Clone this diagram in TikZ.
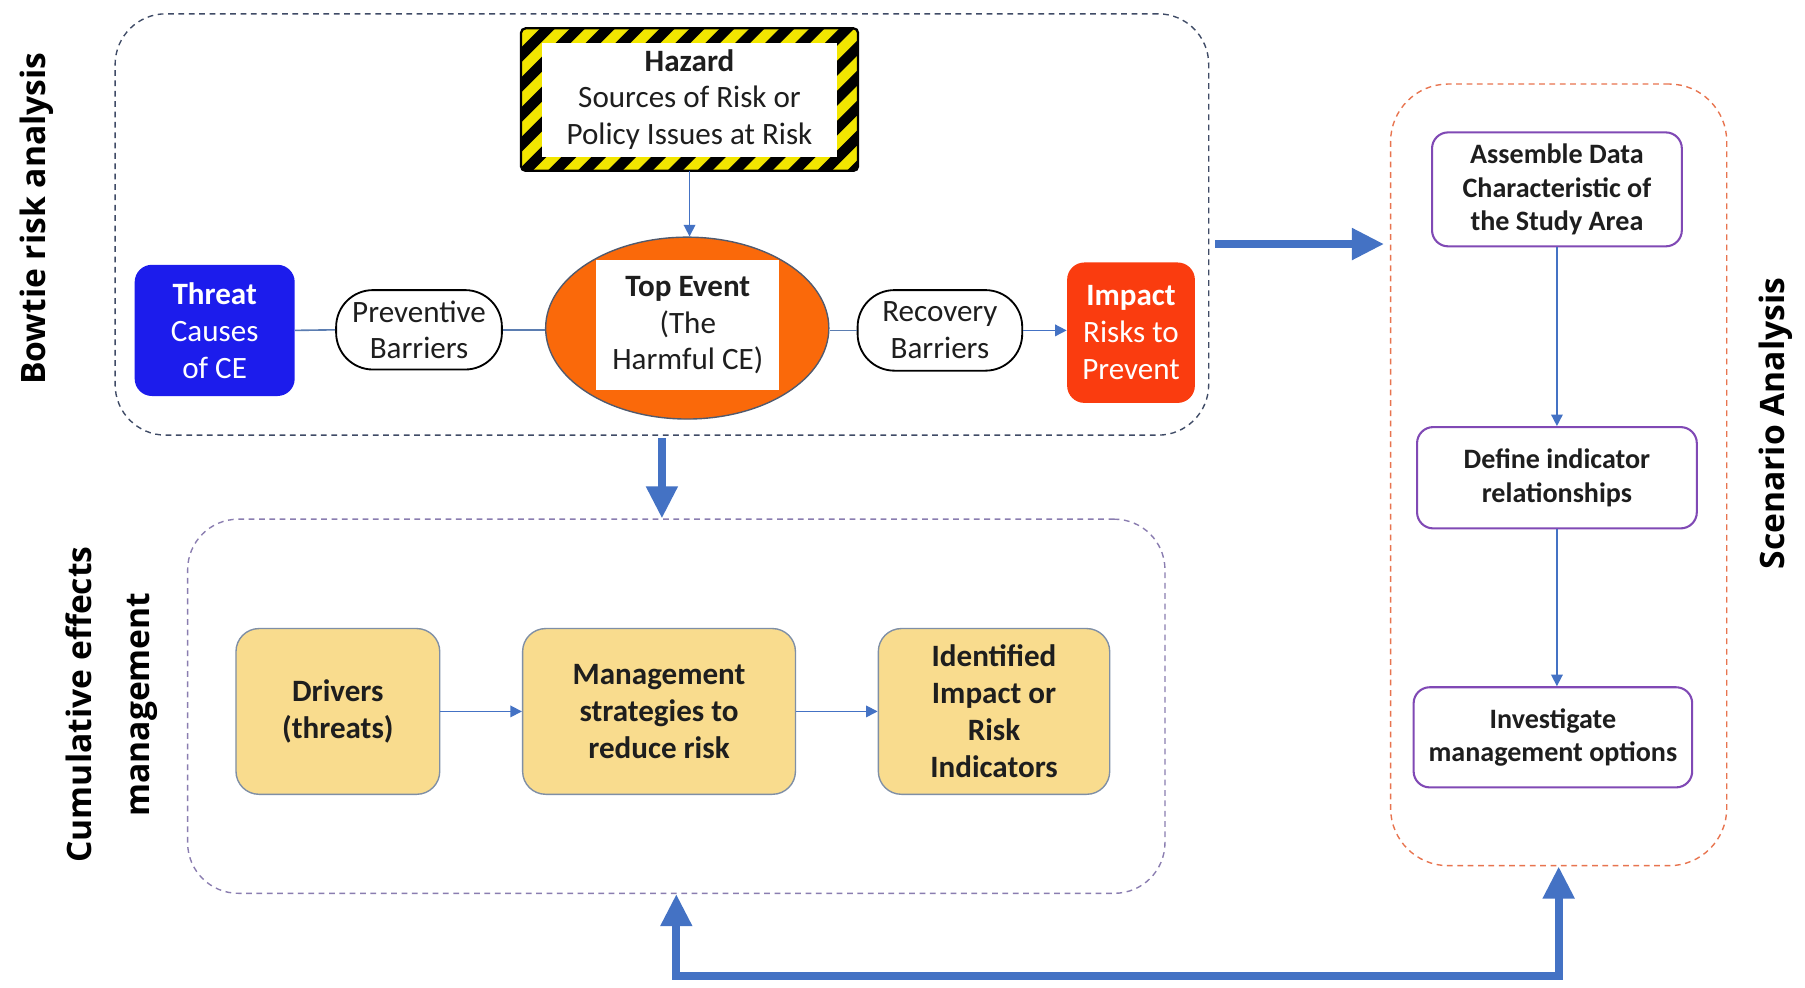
\documentclass[tikz,border=0pt]{standalone}
\usepackage{fontspec}
\setmainfont{Carlito}
\newfontfamily\labfont{Open Sans}
\usetikzlibrary{arrows.meta,shapes.geometric}
\definecolor{arrblue}{HTML}{4472C4}
\definecolor{linecol}{HTML}{5B7DB1}
\definecolor{txtcol}{HTML}{1E1E1E}
\definecolor{thrblue}{RGB}{28,28,236}
\definecolor{impred}{HTML}{FA3C0F}
\definecolor{evorange}{HTML}{FA690A}
\definecolor{ellcol}{HTML}{505A6E}
\definecolor{yelbox}{HTML}{F9DC8E}
\definecolor{yelborder}{HTML}{7F8FA6}
\definecolor{hazyel}{HTML}{F2E600}
\definecolor{purp}{HTML}{8049B5}
\definecolor{scendash}{HTML}{E8744F}
\definecolor{cemdash}{HTML}{8A7DB0}
\definecolor{bowdash}{HTML}{3F4B66}
\begin{document}
\begin{tikzpicture}[x=0.5pt,y=-0.5pt,
  txt/.style={font=\fontsize{13.5}{16}\selectfont, align=center, text=txtcol},
  btxt/.style={font=\bfseries\fontsize{13.5}{16}\selectfont, align=center, text=txtcol},
  stxt/.style={font=\bfseries\fontsize{12.2}{14.5}\selectfont, align=center, text=txtcol},
  lab/.style={font=\labfont\bfseries\fontsize{14.6}{25}\selectfont, align=center, text=black, rotate=90},
  group/.style={draw, dashed, dash pattern=on 2.5pt off 2pt, line width=0.6pt, rounded corners=22pt, inner sep=0},
  pill/.style={draw=black, line width=0.8pt, fill=white, rounded corners=16pt, inner sep=0, txt},
  colbox/.style={rounded corners=7.5pt, inner sep=0, text=white, align=center, font=\fontsize{13.5}{16}\selectfont},
  yel/.style={draw=yelborder, line width=0.6pt, fill=yelbox, rounded corners=10pt, inner sep=0, minimum height=72pt, btxt},
  scbox/.style={draw=purp, line width=0.9pt, fill=white, rounded corners=7pt, inner sep=0, stxt},
  thinl/.style={draw=linecol, line width=0.7pt},
  thina/.style={draw=arrblue, line width=0.7pt, -{Triangle[width=5pt,length=5pt]}},
  bigarr/.style={draw=arrblue, fill=none, line width=3.5pt, -{Triangle[width=13pt,length=14pt]}},
  bigboth/.style={draw=arrblue, line width=3.5pt, line join=miter, {Triangle[width=13pt,length=14pt]}-{Triangle[width=13pt,length=14pt]}}
]
\fill[white] (0,0) rectangle (1568,858);
\useasboundingbox (0,0) rectangle (1568,858);

% group boxes
\node[group, draw=bowdash, minimum width=475pt, minimum height=183pt] (bow) at (575,195) {};
\node[group, draw=cemdash, minimum width=424.5pt, minimum height=162.5pt] (cem) at (587.5,613.5) {};
\node[group, draw=scendash, rounded corners=25pt, minimum width=146pt, minimum height=339.5pt] (scen) at (1354,412.5) {};

% side labels
\node[lab] (lbow) at (32,190) {Bowtie risk analysis};
\node[lab] (lcem) at (97,612) {Cumulative effects\\management};
\node[lab] (lscen) at (1543,368) {Scenario Analysis};

% hazard
\node[minimum width=146pt, minimum height=61.5pt, inner sep=0] (haz) at (599,86.5) {};
\begin{scope}
  \clip[rounded corners=2pt] (haz.south west) rectangle (haz.north east);
  \fill[hazyel] (haz.south west) rectangle (haz.north east);
  \foreach \s in {320,346,...,750} {
    \fill[black] (\s,148) -- ++(13,0) -- ++(123,-123) -- ++(-13,0) -- cycle;
  }
\end{scope}
\draw[black, line width=1pt, rounded corners=2pt] (haz.south west) rectangle (haz.north east);
\node[fill=white, minimum width=128pt, minimum height=49.5pt, inner sep=0, txt] (hazin) at (haz.center)
  {\textbf{Hazard}\\Sources of Risk or\\Policy Issues at Risk};

% top event
\node[ellipse, draw=ellcol, line width=0.6pt, fill=evorange, minimum width=123pt, minimum height=79pt, inner sep=0] (ell) at (597,285) {};
\node[fill=white, minimum width=79.5pt, minimum height=56.5pt, inner sep=0, txt] (top) at (597.5,282.5)
  {\textbf{Top Event}\\(The\\Harmful CE)};

% threat / barriers / impact
\node[colbox, fill=thrblue, minimum width=69.5pt, minimum height=57pt] (thr) at (186.5,287) {\textbf{Threat}\\Causes\\of CE};
\node[pill, minimum width=72pt, minimum height=34.5pt] (prev) at (364,286.5) {Preventive\\Barriers};
\node[pill, minimum width=71.5pt, minimum height=35pt] (rec) at (816.5,287) {Recovery\\Barriers};
\node[colbox, fill=impred, minimum width=55.5pt, minimum height=61pt] (imp) at (982.5,289) {\textbf{Impact}\\Risks to\\Prevent};

\draw[thina] (haz.south) -- (haz.south |- ell.north);
\draw[thinl] (thr.east) -- (prev.west);
\draw[thinl] (prev.east) -- (prev.east -| ell.west);
\draw[thinl] (rec.west -| ell.east) -- (rec.west);
\draw[thina] (rec.east) -- (rec.east -| imp.west);

% cumulative effects boxes
\node[yel, minimum width=88.5pt] (drv) at (293.5,618) {Drivers\\(threats)};
\node[yel, minimum width=118.5pt] (mgt) at (572.5,618) {Management\\strategies to\\reduce risk};
\node[yel, minimum width=100.5pt] (idn) at (863.5,618) {Identified\\Impact or\\Risk\\Indicators};
\draw[thina] (drv.east) -- (mgt.west);
\draw[thina] (mgt.east) -- (idn.west);

% scenario boxes
\node[scbox, minimum width=108.5pt, minimum height=49.5pt] (asm) at (1352.5,164.5) {Assemble Data\\Characteristic of\\the Study Area};
\node[scbox, minimum width=121.5pt, minimum height=44pt] (def) at (1352.5,415) {Define indicator\\relationships};
\node[scbox, minimum width=121pt, minimum height=43.5pt] (inv) at (1349,640.5) {Investigate\\management options};
\draw[thina] (asm.south) -- (asm.south |- def.north);
\draw[thina] (def.south) -- (def.south |- inv.north);

% big arrows
\draw[bigarr, shorten <=2.5pt, shorten >=2.5pt] ([yshift=-8.5pt]bow.east) -- ([yshift=-8.5pt]bow.east -| scen.west);
\draw[bigarr, shorten <=1pt] (bow.south) -- (bow.south |- cem.north);
\coordinate (bl) at (587.5,848);
\draw[bigboth] (cem.south) -- (bl) -| (scen.south);
\end{tikzpicture}
\end{document}
